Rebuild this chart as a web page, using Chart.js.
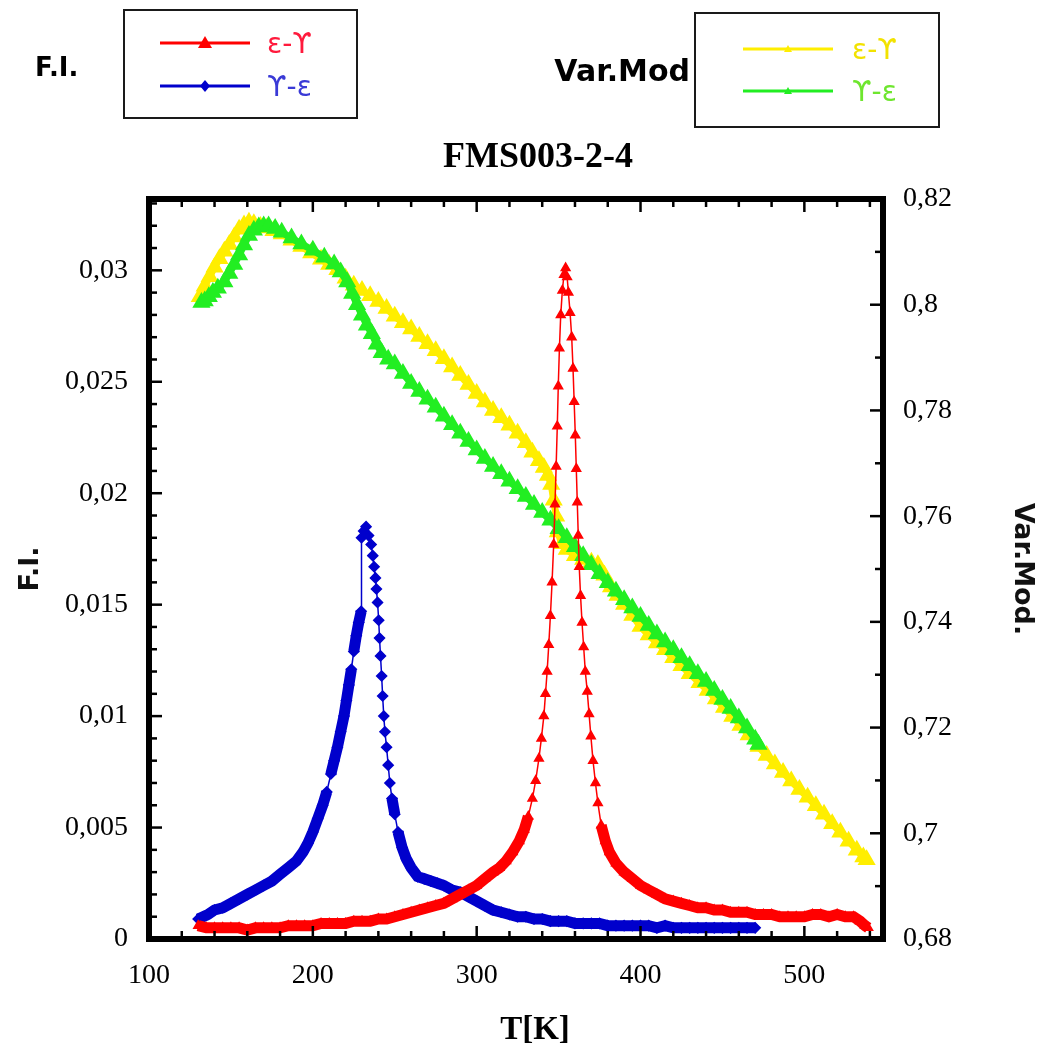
<!DOCTYPE html>
<html>
<head>
<meta charset="utf-8">
<script src="https://cdn.jsdelivr.net/npm/chart.js@4.4.1/dist/chart.umd.min.js"></script>
<style>
    body { margin: 0; background: #fff; }
    #wrap { position: relative; width: 1038px; height: 1050px; }
    .txt { position: absolute; white-space: nowrap; transform: translateY(-50%); }
    .box { position: absolute; border: 2.5px solid #1a1a1a; box-sizing: border-box; }
</style>
</head>
<body>
<div id="wrap">
    <canvas id="lineChart"></canvas>
    <div class="txt" style="left:35px; top:67px; font: bold 26px 'DejaVu Sans';">F.I.</div>
    <div class="txt" style="right:348px; top:70px; font: bold 30px 'DejaVu Sans';">Var.Mod</div>
    <div class="box" style="left:123px; top:9px; width:235px; height:110px;"></div>
    <div class="box" style="left:694px; top:12px; width:246px; height:116px;"></div>
    <div class="txt" style="left:538px; top:155px; transform: translate(-50%, -50%); font: bold 36px 'Liberation Serif';">FMS003-2-4</div>
    <div class="txt" style="left:535px; top:1028px; transform: translate(-50%, -50%); font: bold 33px 'Liberation Serif';">T[K]</div>
    <div id="legend"></div>
</div>
<script>
// F.I. epsilon -> gamma (red)
const tempRed = [
    130, 135, 140, 145, 150, 155, 160, 165, 170, 175, 180, 185, 190, 195, 200, 205, 210, 215, 220, 225,
    230, 235, 240, 245, 250, 255, 260, 265, 270, 275, 280, 285, 290, 295, 300, 305, 310, 314, 318, 322,
    326, 329, 331.5, 334, 336, 338, 339.5, 341, 342, 343, 344, 345, 346, 347, 347.8, 348.5, 349.2, 349.8,
    350.5, 351.3, 352.3, 353.3, 354.3, 355.2, 356, 357, 358, 358.8, 359.5, 360.2, 360.8, 361.4, 362,
    362.6, 363.4, 364.3, 365.3, 366.3, 367.5, 368.6, 369.7, 371, 372.5, 374, 376, 378.5, 381, 385, 390,
    395, 400, 405, 410, 415, 420, 425, 430, 435, 440, 445, 450, 455, 460, 465, 470, 475, 480, 485, 490,
    495, 500, 505, 510, 515, 520, 525, 530, 534, 537, 539
];
const fiRed = [
    0.0006, 0.0005, 0.0005, 0.0005, 0.0005, 0.0005, 0.0004, 0.0005, 0.0005, 0.0005, 0.0005, 0.0006, 0.0006,
    0.0006, 0.0006, 0.0007, 0.0007, 0.0007, 0.0007, 0.0008, 0.0008, 0.0008, 0.0009, 0.0009, 0.0010, 0.0011,
    0.0012, 0.0013, 0.0014, 0.0015, 0.0016, 0.0018, 0.0020, 0.0022, 0.0024, 0.0027, 0.0030, 0.0032, 0.0035,
    0.0039, 0.0044, 0.0049, 0.0055, 0.0063, 0.0071, 0.0081, 0.0090, 0.0100, 0.0110, 0.0120, 0.0132, 0.0145,
    0.0160, 0.0177, 0.0195, 0.0212, 0.0230, 0.0248, 0.0265, 0.0280, 0.0291, 0.0298, 0.0301, 0.0297, 0.0290,
    0.0281, 0.0270, 0.0256, 0.0241, 0.0226, 0.0211, 0.0196, 0.0181, 0.0167, 0.0154, 0.0142, 0.0131, 0.0120,
    0.0111, 0.0101, 0.0091, 0.0080, 0.0070, 0.0061, 0.0051, 0.0044, 0.0039, 0.0034, 0.0030, 0.0027, 0.0024,
    0.0022, 0.0020, 0.0018, 0.0017, 0.0016, 0.0015, 0.0014, 0.0014, 0.0013, 0.0013, 0.0012, 0.0012, 0.0012,
    0.0011, 0.0011, 0.0011, 0.0010, 0.0010, 0.0010, 0.0010, 0.0011, 0.0011, 0.0010, 0.0011, 0.0010, 0.0010,
    0.0008, 0.0006, 0.0005
];

// F.I. gamma -> epsilon (blue)
const tempBlue = [
    130, 133, 136, 140, 145, 150, 155, 160, 165, 170, 175, 180, 185, 190, 194, 197, 200, 203, 206, 208.5,
    211, 213, 215, 217, 219, 220.5, 222, 223.5, 225, 226.5, 228, 229.5, 229.7, 231, 232.5, 234, 235.6,
    236.6, 237.4, 238.2, 238.8, 239.5, 240.2, 240.7, 241.3, 242, 242.6, 243.3, 244, 245, 246, 247, 248.3,
    250, 252, 254.5, 257, 260, 264, 268, 272, 276, 280, 285, 290, 295, 300, 305, 310, 315, 320, 325, 330,
    335, 340, 345, 350, 355, 360, 365, 370, 375, 380, 385, 390, 395, 400, 405, 410, 415, 420, 425, 430,
    435, 440, 445, 450, 455, 460, 465, 470
];
const fiBlue = [
    0.0009, 0.0010, 0.0011, 0.0013, 0.0014, 0.0016, 0.0018, 0.0020, 0.0022, 0.0024, 0.0026, 0.0029, 0.0032,
    0.0035, 0.0039, 0.0043, 0.0048, 0.0054, 0.0060, 0.0066, 0.0074, 0.0080, 0.0086, 0.0093, 0.0100, 0.0107,
    0.0114, 0.0121, 0.0129, 0.0136, 0.0142, 0.0147, 0.0180, 0.0183, 0.0185, 0.0181, 0.0177, 0.0172, 0.0167,
    0.0162, 0.0157, 0.0151, 0.0143, 0.0135, 0.0127, 0.0118, 0.0109, 0.0100, 0.0093, 0.0086, 0.0078, 0.0070,
    0.0063, 0.0056, 0.0048, 0.0041, 0.0036, 0.0032, 0.0028, 0.0027, 0.0026, 0.0025, 0.0024, 0.0022, 0.0021,
    0.0019, 0.0017, 0.0015, 0.0013, 0.0012, 0.0011, 0.0010, 0.0010, 0.0009, 0.0009, 0.0008, 0.0008, 0.0008,
    0.0007, 0.0007, 0.0007, 0.0007, 0.0006, 0.0006, 0.0006, 0.0006, 0.0006, 0.0006, 0.0005, 0.0006, 0.0005,
    0.0005, 0.0005, 0.0005, 0.0005, 0.0005, 0.0005, 0.0005, 0.0005, 0.0005, 0.0005, 0.0005
];

// Var.Mod epsilon -> gamma (yellow)
const tempYellow = [
    131, 134, 137, 140, 143, 146, 149, 152, 155, 158, 161, 164, 168, 172, 176, 181, 187, 193, 199, 205,
    210, 215, 220, 225, 230, 235, 240, 245, 250, 255, 260, 265, 270, 275, 280, 285, 290, 295, 300, 305,
    310, 315, 320, 325, 330, 334, 338, 341, 343.5, 345.5, 347, 348.5, 349.5, 352, 355, 360, 365, 370, 374,
    378, 382, 386, 390, 395, 400, 405, 410, 415, 420, 425, 430, 436, 441, 446, 451, 456, 461, 466, 472,
    477, 482, 487, 492, 497, 502, 507, 512, 517, 522, 527, 532, 536, 538
];
const vmYellow = [
    0.8015, 0.8035, 0.8053, 0.8071, 0.8087, 0.8101, 0.8114, 0.8128, 0.8143, 0.8151, 0.8156, 0.8153, 0.8148,
    0.8145, 0.8140, 0.8134, 0.8122, 0.8110, 0.8098, 0.8086, 0.8076, 0.8066, 0.8050, 0.8037, 0.8027, 0.8017,
    0.8006, 0.7993, 0.7978, 0.7966, 0.7954, 0.7940, 0.7926, 0.7913, 0.7898, 0.7882, 0.7866, 0.7849, 0.7832,
    0.7816, 0.7800, 0.7786, 0.7772, 0.7757, 0.7739, 0.7721, 0.7705, 0.7692, 0.7677, 0.7660, 0.7630, 0.7600,
    0.7570, 0.7548, 0.7537, 0.7525, 0.7518, 0.7513, 0.7508, 0.7488, 0.7466, 0.7450, 0.7433, 0.7412, 0.7391,
    0.7375, 0.7360, 0.7347, 0.7332, 0.7317, 0.7302, 0.7285, 0.7270, 0.7254, 0.7238, 0.7221, 0.7204, 0.7186,
    0.7164, 0.7147, 0.7131, 0.7115, 0.7099, 0.7083, 0.7068, 0.7052, 0.7036, 0.7018, 0.7002, 0.6985, 0.6968,
    0.6955, 0.6950
];

// Var.Mod gamma -> epsilon (green)
const tempGreen = [
    132, 134, 136.5, 139, 142, 146, 149, 152, 155, 158, 161, 164, 167, 170, 173, 177, 181, 187, 193, 200,
    207, 213, 217, 221, 224, 227, 230, 233, 236, 239, 242, 246, 250, 255, 260, 265, 270, 275, 280, 285,
    290, 295, 300, 305, 310, 315, 320, 325, 330, 335, 340, 345, 350, 355, 360, 365, 370, 375, 380, 385,
    390, 395, 400, 405, 410, 415, 420, 425, 430, 435, 440, 445, 450, 455, 460, 465, 470, 472
];
const vmGreen = [
    0.8004, 0.8007, 0.8015, 0.8023, 0.8031, 0.8043, 0.8059, 0.8076, 0.8094, 0.8113, 0.8131, 0.8141, 0.8147,
    0.8149, 0.8149, 0.8144, 0.8137, 0.8126, 0.8115, 0.8103, 0.8090, 0.8077, 0.8062, 0.8043, 0.8021, 0.8000,
    0.7980, 0.7961, 0.7945, 0.7925, 0.7909, 0.7897, 0.7888, 0.7870, 0.7851, 0.7836, 0.7821, 0.7806, 0.7789,
    0.7773, 0.7757, 0.7741, 0.7725, 0.7709, 0.7694, 0.7680, 0.7666, 0.7652, 0.7637, 0.7622, 0.7607, 0.7592,
    0.7576, 0.7559, 0.7542, 0.7525, 0.7508, 0.7491, 0.7474, 0.7458, 0.7442, 0.7426, 0.7410, 0.7393, 0.7377,
    0.7362, 0.7347, 0.7332, 0.7317, 0.7302, 0.7287, 0.7270, 0.7253, 0.7236, 0.7218, 0.7199, 0.7178, 0.7168
];

const xTicks = [100, 200, 300, 400, 500];
const fiTicks = [0, 0.005, 0.01, 0.015, 0.02, 0.025, 0.03];
const vmTicks = [0.68, 0.7, 0.72, 0.74, 0.76, 0.78, 0.8, 0.82];

const legendItems = [
    { label: 'ε-ϒ', color: '#ff0000', text: '#ff1a3c', marker: 'tri', x: 160, y: 43, tx: 267 },
    { label: 'ϒ-ε', color: '#0000cc', text: '#3a3ad6', marker: 'dia', x: 160, y: 86, tx: 267 },
    { label: 'ε-ϒ', color: '#ffee00', text: '#f2e200', marker: 'small', x: 743, y: 49, tx: 852 },
    { label: 'ϒ-ε', color: '#22ee22', text: '#6ee62e', marker: 'small', x: 743, y: 91, tx: 852 }
];

function toPoints(xs, ys) {
    return xs.map((x, i) => ({ x: x, y: ys[i] }));
}

function commaLabel(v) {
    return String(Math.round(v * 10000) / 10000).replace('.', ',');
}

// short, low, not too steep segments = dense noisy measurement, drawn as a thick band
function bandWidth(ctx) {
    const dx = Math.abs(ctx.p1.x - ctx.p0.x);
    const d = Math.hypot(ctx.p1.x - ctx.p0.x, ctx.p1.y - ctx.p0.y);
    const limit = ctx.chart.scales.y.getPixelForValue(0.0165);
    const low = ctx.p0.y > limit && ctx.p1.y > limit;
    return d < 17 && dx >= 2.2 && low ? 11 : 1.5;
}

// legend boxes
let legendHtml = '';
legendItems.forEach(item => {
    let mark = '';
    if (item.marker === 'tri') {
        mark = `<polygon points="45,-7 52,5 38,5" fill="${item.color}"/>`;
    } else if (item.marker === 'dia') {
        mark = `<polygon points="45,-6 50,0 45,6 40,0" fill="${item.color}"/>`;
    } else {
        mark = `<polygon points="45,-4 49,3 41,3" fill="${item.color}"/>`;
    }
    legendHtml += `<svg style="position:absolute; left:${item.x}px; top:${item.y - 10}px; overflow:visible" width="90" height="20">
        <g transform="translate(0,10)"><line x1="0" y1="0" x2="90" y2="0" stroke="${item.color}" stroke-width="3"/>${mark}</g></svg>`;
    legendHtml += `<div class="txt" style="left:${item.tx}px; top:${item.y}px; font: 28px 'DejaVu Sans'; color:${item.text};">${item.label}</div>`;
});
document.getElementById('legend').innerHTML = legendHtml;

const frameTicks = {
    id: 'frameTicks',
    afterDraw(chart) {
        const { ctx, chartArea: a, scales } = chart;
        ctx.save();
        ctx.strokeStyle = '#000';
        ctx.lineWidth = 2.5;
        const mark = (x1, y1, x2, y2) => {
            ctx.beginPath();
            ctx.moveTo(x1, y1);
            ctx.lineTo(x2, y2);
            ctx.stroke();
        };
        for (let v = 100; v <= 548; v += 20) {
            const x = scales.x.getPixelForValue(v);
            const len = v % 100 === 0 ? 13 : 8;
            mark(x, a.bottom, x, a.bottom - len);
            mark(x, a.top, x, a.top + len);
        }
        for (let i = 0; i <= 33; i++) {
            const y = scales.y.getPixelForValue(i * 0.001);
            mark(a.left, y, a.left + (i % 5 === 0 ? 13 : 8), y);
        }
        for (let i = 0; i <= 14; i++) {
            const y = scales.y1.getPixelForValue(0.68 + i * 0.01);
            mark(a.right, y, a.right - (i % 2 === 0 ? 13 : 8), y);
        }
        ctx.lineWidth = 6;
        ctx.strokeRect(a.left, a.top, a.right - a.left, a.bottom - a.top);
        ctx.restore();
    }
};

const tickFont = { family: 'Liberation Serif', size: 28 };

const lineCtx = document.getElementById('lineChart').getContext('2d');
const lineChart = new Chart(lineCtx, {
    type: 'line',
    data: {
        datasets: [
            {
                label: 'F.I. ε-ϒ',
                data: toPoints(tempRed, fiRed),
                yAxisID: 'y',
                borderColor: '#ff0000',
                backgroundColor: '#ff0000',
                borderWidth: 1.5,
                segment: { borderWidth: bandWidth },
                pointStyle: 'triangle',
                pointRadius: 5,
                order: 0
            },
            {
                label: 'F.I. ϒ-ε',
                data: toPoints(tempBlue, fiBlue),
                yAxisID: 'y',
                borderColor: '#0000cc',
                backgroundColor: '#0000cc',
                borderWidth: 1.5,
                segment: { borderWidth: bandWidth },
                pointStyle: 'rectRot',
                pointRadius: 5,
                order: 1
            },
            {
                label: 'Var.Mod ϒ-ε',
                data: toPoints(tempGreen, vmGreen),
                yAxisID: 'y1',
                borderColor: '#22ee22',
                backgroundColor: '#22ee22',
                borderWidth: 7,
                pointStyle: 'triangle',
                pointRadius: 3.5,
                order: 2
            },
            {
                label: 'Var.Mod ε-ϒ',
                data: toPoints(tempYellow, vmYellow),
                yAxisID: 'y1',
                borderColor: '#ffee00',
                backgroundColor: '#ffee00',
                borderWidth: 7,
                pointStyle: 'triangle',
                pointRadius: 3.5,
                order: 3
            }
        ]
    },
    options: {
        responsive: true,
        maintainAspectRatio: false,
        animation: false,
        events: [],
        layout: {
            padding: { top: 199, left: 0, right: 0, bottom: 0 }
        },
        elements: {
            line: { tension: 0 }
        },
        scales: {
            x: {
                type: 'linear',
                min: 100,
                max: 548,
                afterBuildTicks: s => { s.ticks = xTicks.map(v => ({ value: v })); },
                afterFit: s => { s.height = 111; },
                grid: { display: false, drawTicks: false },
                border: { display: false },
                ticks: {
                    autoSkip: false,
                    maxRotation: 0,
                    padding: 20,
                    color: '#000',
                    font: tickFont
                }
            },
            y: {
                position: 'left',
                min: 0,
                max: 0.0332,
                afterBuildTicks: s => { s.ticks = fiTicks.map(v => ({ value: v })); },
                afterFit: s => { s.width = 149; },
                grid: { display: false, drawTicks: false },
                border: { display: false },
                title: {
                    display: true,
                    text: 'F.I.',
                    color: '#111',
                    font: { family: 'DejaVu Sans', weight: 'bold', size: 27 },
                    padding: { top: 15, bottom: 0 }
                },
                ticks: {
                    autoSkip: false,
                    padding: 21,
                    color: '#000',
                    font: tickFont,
                    callback: v => commaLabel(v)
                }
            },
            y1: {
                position: 'right',
                min: 0.68,
                max: 0.82,
                afterBuildTicks: s => { s.ticks = vmTicks.map(v => ({ value: v })); },
                afterFit: s => { s.width = 155; },
                grid: { display: false, drawTicks: false },
                border: { display: false },
                title: {
                    display: true,
                    text: 'Var.Mod.',
                    color: '#111',
                    font: { family: 'DejaVu Sans', weight: 'bold', size: 27 },
                    padding: { top: 0, bottom: 16 }
                },
                ticks: {
                    autoSkip: false,
                    padding: 20,
                    color: '#000',
                    font: tickFont,
                    callback: v => commaLabel(v)
                }
            }
        },
        plugins: {
            legend: { display: false },
            tooltip: { enabled: false }
        }
    },
    plugins: [frameTicks]
});
</script>
</body>
</html>
